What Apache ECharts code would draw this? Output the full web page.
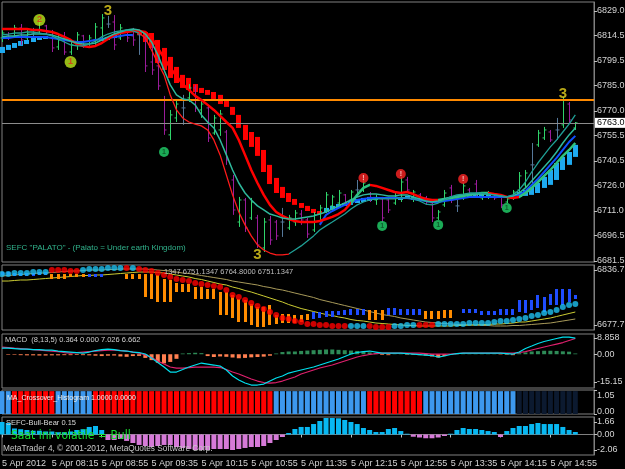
<!DOCTYPE html>
<html><head><meta charset="utf-8">
<script src="https://cdn.jsdelivr.net/npm/echarts@6/dist/echarts.min.js"></script>
<style>html,body{margin:0;padding:0;background:#000;}#c{width:625px;height:469px;}</style>
</head><body><div id="c"></div>
<script>
// ---------- categories (5-minute bars, 5 Apr 2012) ----------
const times = ['07:35','07:40','07:45','07:50','07:55','08:00','08:05','08:10',
'08:15','08:20','08:25','08:30','08:35','08:40','08:45','08:50',
'08:55','09:00','09:05','09:10','09:15','09:20','09:25','09:30',
'09:35','09:40','09:45','09:50','09:55','10:00','10:05','10:10',
'10:15','10:20','10:25','10:30','10:35','10:40','10:45','10:50',
'10:55','11:00','11:05','11:10','11:15','11:20','11:25','11:30',
'11:35','11:40','11:45','11:50','11:55','12:00','12:05','12:10',
'12:15','12:20','12:25','12:30','12:35','12:40','12:45','12:50',
'12:55','13:00','13:05','13:10','13:15','13:20','13:25','13:30',
'13:35','13:40','13:45','13:50','13:55','14:00','14:05','14:10',
'14:15','14:20','14:25','14:30','14:35','14:40','14:45','14:50',
'14:55','15:00','15:05','15:10','15:15','15:20','15:25','15:30'];
const dateLabel = '5 Apr 2012';
const dayPrefix = '5 Apr ';

// ---------- main window: price bars ----------
const barOpen = [6813.1,6814.9,6813.7,6819.0,6813.1,6816.0,6816.6,6820.2,6816.6,6807.8,
6811.9,6804.8,6809.0,6814.3,6809.5,6811.9,6819.0,6821.3,6822.5,6813.1,
6817.2,6814.3,6814.9,6813.1,6798.9,6796.6,6776.5,6755.9,6765.9,6771.8,
6777.7,6783.6,6770.6,6771.8,6757.0,6758.8,6757.6,6729.3,6704.5,6717.5,
6706.9,6706.9,6689.2,6705.7,6704.5,6704.5,6701.0,6704.5,6709.2,6705.7,
6699.8,6709.2,6711.6,6714.0,6715.7,6720.5,6717.5,6723.4,6723.4,6721.0,
6717.5,6718.1,6717.5,6715.7,6718.7,6729.3,6718.7,6720.5,6718.7,6715.1,
6706.9,6714.6,6724.6,6714.0,6718.7,6723.4,6726.9,6718.7,6720.5,6721.0,
6719.3,6716.3,6718.7,6723.4,6726.4,6738.2,6750.0,6754.1,6757.6,6758.8,
6761.8,6774.1,6760.0];
const barHigh = [6817.8,6816.6,6820.8,6821.3,6817.8,6819.0,6824.9,6820.8,6817.8,6814.9,
6816.6,6811.9,6816.6,6814.9,6814.9,6821.9,6827.2,6826.1,6826.6,6821.3,
6817.8,6819.0,6816.0,6814.3,6809.0,6803.1,6778.9,6770.6,6776.5,6779.5,
6785.9,6785.4,6776.5,6773.6,6767.7,6770.6,6758.8,6732.3,6719.3,6718.7,
6718.7,6708.7,6706.9,6708.1,6705.7,6712.8,6708.7,6711.6,6711.6,6706.9,
6710.4,6714.6,6722.2,6720.5,6723.4,6721.0,6723.4,6729.3,6729.3,6722.2,
6720.5,6719.3,6719.3,6721.6,6731.1,6731.1,6723.4,6721.6,6719.9,6716.3,
6711.6,6723.4,6726.4,6717.5,6727.5,6724.6,6729.3,6722.2,6722.8,6721.6,
6720.5,6719.3,6723.4,6734.0,6735.2,6751.1,6758.8,6760.6,6758.8,6765.9,
6778.3,6775.3,6763.5];
const barLow = [6810.7,6811.9,6813.1,6809.0,6811.9,6813.1,6815.4,6814.9,6804.8,6806.0,
6803.1,6803.1,6806.0,6807.2,6808.4,6809.0,6811.9,6819.0,6806.0,6811.9,
6810.7,6808.4,6803.1,6793.0,6791.3,6782.4,6755.9,6752.9,6763.5,6761.8,
6775.3,6769.4,6765.9,6751.7,6755.9,6755.3,6738.2,6708.7,6701.6,6698.6,
6705.7,6689.2,6686.8,6691.0,6693.9,6695.7,6699.8,6702.2,6702.8,6695.1,
6698.6,6705.7,6709.8,6712.8,6713.4,6714.0,6716.3,6719.3,6722.2,6716.3,
6714.6,6704.5,6709.8,6714.6,6716.3,6721.6,6716.3,6717.5,6714.6,6704.5,
6705.7,6713.4,6715.7,6710.4,6717.5,6719.3,6719.3,6717.5,6718.1,6717.5,
6712.8,6715.7,6717.5,6721.6,6724.6,6726.4,6748.8,6752.9,6751.7,6752.9,
6760.0,6762.9,6758.8];
const barClose = [6816.0,6813.7,6819.0,6811.9,6816.0,6816.0,6822.5,6816.6,6807.2,6811.9,
6804.8,6809.0,6814.9,6809.0,6813.1,6819.6,6824.9,6821.3,6809.0,6819.0,
6813.1,6811.9,6814.9,6796.6,6794.2,6784.8,6758.8,6767.7,6774.1,6771.8,
6783.6,6771.8,6774.1,6754.1,6765.9,6768.2,6741.1,6711.6,6717.5,6701.0,
6716.3,6691.0,6704.5,6693.9,6696.3,6704.5,6706.9,6709.8,6705.7,6697.4,
6708.7,6712.8,6720.5,6719.3,6721.6,6715.7,6722.2,6723.4,6727.5,6718.1,
6718.7,6706.9,6711.6,6719.9,6728.1,6723.4,6722.2,6718.7,6716.3,6706.9,
6710.4,6721.6,6717.5,6714.0,6725.8,6720.5,6721.0,6721.0,6721.6,6718.7,
6714.6,6718.1,6722.2,6731.7,6733.4,6738.2,6757.0,6758.8,6752.9,6758.8,
6776.5,6764.7,6763.0];

// ---------- main window: moving averages ----------
const maFast = [6814.9,6815.4,6816.0,6816.0,6816.6,6816.6,6816.0,6815.4,6814.3,6812.5,
6810.7,6809.0,6808.4,6808.4,6809.5,6811.3,6813.7,6815.4,6816.6,6817.2,
6817.8,6817.2,6816.0,6813.1,6806.0,6798.3,6791.3,6779.5,6770.6,6765.9,
6763.5,6762.3,6761.2,6758.8,6752.9,6744.1,6732.3,6720.5,6710.4,6702.8,
6696.3,6691.0,6688.0,6686.2,6685.1,6685.1,6685.6,6688.0,6690.4,6693.3,
6696.3,6699.8,6702.2,6704.5,6706.9,6709.2,6712.2,6714.6,6716.3,6717.5,
6718.1,6718.1,6718.1,6718.1,6718.7,6718.7,6718.1,6716.9,6715.1,6714.6,
6715.7,6717.5,6719.3,6720.5,6721.0,6721.6,6721.6,6721.6,6721.0,6720.5,
6719.9,6719.3,6720.5,6723.4,6728.1,6734.0,6739.3,6744.1,6748.8,6752.9,
6757.6,6762.3,6767.7];
const maMid = [6813.7,6814.3,6814.3,6814.9,6814.9,6815.4,6815.4,6815.4,6814.9,6813.7,
6812.5,6811.3,6810.1,6809.5,6809.5,6810.1,6811.9,6813.7,6815.4,6816.6,
6817.8,6818.4,6817.8,6815.4,6810.7,6803.1,6794.2,6785.4,6779.5,6777.1,
6776.5,6773.6,6767.7,6763.5,6760.0,6752.9,6744.1,6735.2,6727.5,6721.6,
6717.5,6714.0,6711.6,6709.2,6708.1,6706.9,6706.3,6706.3,6706.9,6707.5,
6708.1,6709.2,6710.4,6712.2,6714.0,6715.7,6717.5,6719.3,6720.5,6721.0,
6721.0,6720.5,6719.9,6719.9,6720.5,6720.5,6719.3,6718.1,6716.9,6716.3,
6716.9,6718.1,6719.3,6719.9,6720.5,6721.0,6721.0,6721.0,6721.0,6720.5,
6719.9,6719.3,6719.9,6721.6,6724.6,6728.7,6732.8,6737.0,6741.1,6745.8,
6751.1,6755.9,6760.0];
const maSlow = [6818.4,6818.4,6818.4,6818.4,6818.4,6817.8,6817.8,6817.2,6816.6,6815.4,
6813.7,6811.9,6809.5,6808.4,6807.8,6808.4,6810.1,6812.5,6814.9,6816.0,
6816.6,6817.2,6817.2,6816.6,6813.1,6807.2,6801.3,6795.4,6790.7,6785.9,
6782.4,6778.9,6776.5,6773.6,6770.6,6767.1,6763.5,6760.0,6752.9,6744.1,
6735.2,6727.5,6720.5,6714.6,6710.4,6708.1,6706.3,6705.1,6704.5,6704.5,
6704.5,6705.1,6706.3,6707.5,6709.2,6711.6,6715.7,6720.5,6724.6,6726.4,
6725.8,6724.6,6723.4,6722.2,6721.6,6722.2,6721.0,6719.3,6718.1,6717.5,
6717.5,6718.1,6718.7,6719.3,6719.9,6720.5,6721.0,6721.6,6721.6,6721.0,
6720.5,6719.3,6718.7,6719.3,6721.6,6724.6,6728.1,6731.7,6735.2,6739.3,
6743.5,6747.0,6751.1];
const maBlue = [6813.1,6813.1,6813.7,6813.7,6813.7,6813.7,6813.7,6813.7,6813.1,6812.5,
6811.9,6811.3,6810.7,6810.7,6811.3,6811.9,6812.5,6813.1,6813.7,6814.3,
6814.9,6814.9,
null,null,null,null,null,null,null,null,null,null,
null,null,null,null,null,null,null,null,null,null,
null,null,null,null,null,null,null,null,null,
6702.8,6708.7,6711.0,6712.8,6714.6,6715.7,6717.5,6718.1,6718.7,6718.7,
6718.7,6718.7,6718.7,6718.7,6718.7,6718.1,6717.5,6716.9,6716.3,6716.3,
6716.9,6717.5,6718.1,6718.7,6719.3,6719.3,6719.3,6719.3,6719.3,6719.3,
6719.3,6719.9,6720.5,6722.8,6726.4,6729.9,6734.0,6738.2,6742.3,6747.0,
6751.7,6755.3];

// ---------- main window: smoothed blocks (open / close) ----------
const haOpen = [6804.2,6806.0,6807.2,6808.4,6809.5,6810.7,6811.9,6812.5,
null,null,null,null,null,null,null,null,
6811.3,6811.9,6813.1,null,null,null,
6817.2,6816.6,6816.0,6811.9,6807.2,6801.9,6796.0,6791.3,6789.5,6785.9,
6783.6,6782.4,6781.2,6779.5,6776.5,6772.4,6767.7,6761.8,6757.6,6754.7,
6747.0,6738.2,6730.5,6725.2,6721.6,6718.1,6715.7,6714.0,6712.2,6711.0,
6710.4,6711.6,6712.8,6714.0,6714.6,6715.7,6716.3,6716.9,6717.5,
null,null,null,6717.5,6718.1,6717.5,6716.9,
null,null,null,null,null,null,null,
6718.7,6718.7,6719.3,6719.3,null,null,null,null,
6719.3,6719.9,6720.5,6721.6,6724.6,6726.4,6729.3,6735.2,6738.2,6742.9];
const haClose = [6807.8,6809.0,6810.1,6811.3,6811.9,6813.1,6813.7,6814.3,
null,null,null,null,null,null,null,null,
6812.5,6813.7,6814.9,null,null,null,
6814.9,6810.7,6807.2,6798.3,6794.2,6789.5,6786.5,6783.6,6782.4,6781.2,
6780.6,6779.5,6777.1,6774.1,6772.4,6767.7,6760.0,6752.9,6748.8,6743.5,
6734.0,6726.9,6721.6,6718.7,6716.3,6714.6,6712.8,6711.0,6709.8,6709.2,
6712.8,6714.0,6715.1,6715.7,6716.9,6718.1,6718.7,6719.3,6719.3,
null,null,null,6719.3,6719.9,6719.3,6718.7,
null,null,null,null,null,null,null,
6720.5,6720.5,6721.0,6721.0,null,null,null,null,
6722.2,6723.4,6725.2,6727.5,6731.1,6735.2,6739.3,6742.9,6745.8,6750.0];

// ---------- main window: signals and levels ----------
const sigIdx   = [6, 11, 26, 58, 64, 74, 61, 70, 81, 17, 41, 90];
const sigPrice = [6823.7, 6798.9, 6745.8, 6730.5, 6732.8, 6729.9, 6702.2, 6702.8, 6712.8, 6829.0, 6685.1, 6780.0];
const sigText  = ['2','1','1','!','!','!','1','1','1','3','3','3'];
const sigKind  = ['lime','lime','green','red','red','red','green','green','green','wave','wave','wave'];
const levelPrice = 6776.5;
const mainTicks = [6829.0,6814.5,6799.5,6785.0,6770.0,6755.5,6740.5,6726.0,6711.0,6696.5,6681.5];

// ---------- window 2 ----------
const p2Dots = [6825.1,6825.1,6828.0,6828.0,6828.0,6830.9,6830.9,6830.9,6836.7,6836.7,
6836.7,6833.8,6833.8,6836.7,6839.6,6839.6,6839.6,6842.5,6842.5,6842.5,
6842.5,6842.5,6839.6,6836.7,6833.8,6828.0,6822.3,6816.5,6810.7,6807.8,
6804.9,6799.1,6796.2,6793.4,6790.5,6787.6,6778.9,6764.5,6758.7,6750.0,
6741.3,6732.7,6724.0,6715.3,6706.7,6698.0,6695.1,6689.3,6686.4,6680.6,
6680.6,6677.8,6677.8,6674.9,6674.9,6674.9,6674.9,6674.9,6674.9,6674.9,
6672.0,6672.0,6672.0,6674.9,6674.9,6677.8,6677.8,6677.8,6677.8,6677.8,
6680.6,6680.6,6680.6,6680.6,6680.6,6683.5,6683.5,6683.5,6683.5,6686.4,
6689.3,6689.3,6692.2,6695.1,6698.0,6703.8,6706.7,6712.4,6715.3,6721.1,
6729.8,6735.5,6738.4];
const p2Side = [1,1,1,1,1,1,1,1,0,0,0,0,0,1,1,1,1,1,1,1,0,1,
0,0,0,0,0,0,0,0,0,0,0,0,0,0,0,0,0,0,0,0,0,0,0,0,0,0,0,0,0,0,0,0,0,0,
1,1,1,0,0,0,0,1,1,1,1,0,0,0,
1,1,1,1,1,1,1,1,1,1,1,1,1,1,1,1,1,1,1,1,1,1,1];
const p2Open = [6822.3,6822.3,6819.4,6819.4,6819.4,6819.4,6822.3,6822.3,6825.1,6825.1,
6825.1,6825.1,6825.1,6825.1,6816.5,6816.5,6816.5,null,null,null,
6825.1,6825.1,6825.1,6825.1,6825.1,6822.3,6810.7,6807.8,6799.1,6796.2,
6796.2,6787.6,6787.6,6781.8,6781.8,6773.1,6773.1,6764.5,6752.9,6750.0,
6738.4,6729.8,6729.8,6735.5,6706.7,6709.5,6709.5,6706.7,6706.7,6709.5,
6695.1,6698.0,6700.9,6700.9,6706.7,6706.7,6706.7,6706.7,6706.7,6721.1,
6721.1,6721.1,6706.7,6706.7,6706.7,6706.7,6706.7,6706.7,6718.2,6718.2,
6718.2,6721.1,6721.1,null,6712.4,6712.4,6712.4,6706.7,6706.7,6706.7,
6706.7,6706.7,6706.7,6715.3,6712.4,6721.1,6726.9,6715.3,6735.5,6735.5,
6735.5,6744.2,6752.9];
const p2Close = [6830.9,6830.9,6828.0,6828.0,6828.0,6828.0,6830.9,6830.9,6810.7,6810.7,
6810.7,6816.5,6816.5,6816.5,6825.1,6825.1,6825.1,null,null,null,
6810.7,6810.7,6810.7,6758.7,6752.9,6744.2,6744.2,6744.2,6773.1,6773.1,
6773.1,6752.9,6752.9,6752.9,6752.9,6706.7,6706.7,6698.0,6686.4,6686.4,
6677.8,6672.0,6672.0,6677.8,6680.6,6683.5,6683.5,6683.5,6686.4,6692.2,
6715.3,6715.3,6718.2,6718.2,6718.2,6721.1,6724.0,6724.0,6724.0,6692.2,
6692.2,6692.2,6726.9,6726.9,6724.0,6724.0,6724.0,6724.0,6695.1,6695.1,
6695.1,6698.0,6698.0,null,6724.0,6724.0,6724.0,6718.2,6718.2,6718.2,
6724.0,6724.0,6724.0,6750.0,6750.0,6750.0,6764.5,6758.7,6767.3,6781.8,
6781.8,6781.8,6764.5];
const p2LineA = [6819.4,6820.8,6822.3,6823.7,6825.1,6826.6,6828.0,6828.0,6829.5,6830.9,
6832.4,6833.8,6833.8,6835.3,6836.7,6836.7,6836.7,6838.2,6838.2,6839.6,
6839.6,6839.6,6839.6,6839.6,6838.2,6836.7,6835.3,6833.8,6830.9,6828.0,
6826.6,6823.7,6820.8,6817.9,6815.0,6812.1,6809.2,6804.9,6802.0,6799.1,
6796.2,6793.4,6789.0,6786.1,6781.8,6778.9,6774.6,6770.2,6765.9,6761.6,
6757.3,6751.4,6747.1,6742.8,6738.4,6734.1,6729.8,6725.4,6721.1,6716.7,
6712.4,6708.1,6705.2,6702.3,6698.0,6695.1,6692.2,6689.3,6686.4,6685.0,
6683.5,6682.1,6680.6,6679.2,6679.2,6677.8,6677.8,6676.3,6676.3,6674.9,
6674.9,6674.9,6676.3,6676.3,6677.8,6679.2,6680.6,6682.1,6683.5,6686.4,
6689.3,6692.2,6695.1];
const p2LineB = [6804.9,6804.9,6806.4,6807.8,6807.8,6809.2,6810.7,6812.1,6813.6,6815.0,
6816.5,6817.9,6819.4,6820.8,6820.8,6822.3,6822.3,6823.7,6825.1,6826.6,
6828.0,6829.5,6830.9,6830.9,6830.9,6829.5,6828.0,6825.1,6822.3,6819.4,
6816.5,6812.1,6809.2,6804.9,6800.6,6796.2,6793.4,6787.6,6783.2,6777.5,
6773.1,6767.3,6761.6,6755.8,6750.0,6744.2,6737.0,6731.2,6725.4,6721.1,
6716.7,6712.4,6708.1,6705.2,6700.9,6698.0,6693.6,6690.8,6689.3,6686.4,
6683.5,6682.1,6680.6,6679.2,6677.8,6676.3,6676.3,6674.9,6674.9,6674.9,
6674.9,6674.9,6674.9,6676.3,6676.3,6677.8,6677.8,6679.2,6679.2,6680.6,
6680.6,6682.1,6683.5,6686.4,6686.4,6689.3,6692.2,6695.1,6698.0,6702.3,
6706.7,6711.0,6715.3];
const p2Ticks = [6836.725, 6677.775];

// ---------- MACD (8,13,5) ----------
const macdMain = [3.38,3.38,3.11,2.84,2.84,2.56,2.56,2.29,2.29,1.75,
1.47,1.20,0.93,0.65,1.20,2.02,2.56,2.84,2.56,2.02,
1.75,1.20,0.93,0.11,-2.07,-4.53,-6.98,-9.71,-9.71,-8.35,
-6.98,-5.89,-4.80,-5.35,-5.89,-6.44,-8.62,-11.89,-14.08,-15.71,
-16.80,-16.80,-16.26,-14.63,-12.98,-11.89,-10.26,-9.44,-8.62,-7.80,
-6.98,-5.89,-4.80,-3.71,-2.62,-1.25,0.11,0.93,1.47,1.75,
1.20,0.65,0.65,0.65,0.65,0.38,0.11,-0.16,-0.44,-0.71,
-1.53,-0.98,-0.16,0.38,0.65,0.65,0.65,0.65,0.65,0.65,
0.65,0.38,0.11,1.20,3.11,4.47,5.84,6.93,7.75,8.57,
9.38,9.38,8.84];
const macdSignal = [3.93,3.66,3.38,3.11,2.84,2.56,2.29,2.02,1.75,1.47,
0.93,0.65,0.93,1.20,1.47,1.75,2.02,2.29,2.29,2.02,
1.75,1.20,0.65,-0.44,-1.80,-3.71,-5.35,-6.98,-7.53,-7.53,
-7.26,-6.98,-6.98,-6.98,-6.98,-7.26,-8.35,-9.71,-10.80,-12.17,
-13.53,-14.63,-15.44,-15.71,-15.44,-14.63,-13.53,-12.44,-10.80,-9.71,
-8.62,-7.53,-6.71,-5.89,-4.80,-3.71,-2.62,-1.53,-0.71,-0.16,
0.38,0.65,0.65,0.65,0.65,0.65,0.65,0.65,0.38,0.11,
0.11,0.11,0.11,0.38,0.65,0.65,0.65,0.65,0.65,0.65,
0.65,0.65,0.65,0.93,1.47,2.29,3.11,3.93,4.75,5.56,
6.38,7.47,8.57];
const macdHist = [0,-0.3,-0.3,-0.5,-0.6,-0.6,-0.7,-0.7,-0.6,-0.6,
-0.5,-0.5,-0.4,-0.5,-0.6,-0.8,-1.0,-0.8,-0.7,-1.2,
-1.4,-1.0,-0.9,-2.0,-3.2,-4.6,-5.0,-4.2,-2.5,0.4,
0.6,0.8,0.6,-1.0,-1.5,-1.2,-1.4,-1.8,-2.2,-2.0,
-1.7,-1.5,-1.3,-0.8,0.4,1.2,1.5,1.5,1.8,2.0,
2.2,2.4,2.6,2.6,2.4,2.2,2.0,1.8,1.5,1.0,
0.6,-0.4,-0.5,0.3,0.3,-0.3,-0.4,-0.5,-0.7,-1.2,
-1.8,-1.0,-0.4,0.3,0.3,0.2,0.3,0.2,0.2,0.2,
-0.2,-0.3,-0.5,0.6,1.0,1.5,1.7,1.9,1.9,1.8,
1.6,1.4,0.4];
const macdTickVals = [8.858, 0, -15.15];
const macdTickText = ['8.858', '0.00', '-15.15'];

// ---------- MA_Crossover_Histogram (B = bull, R = bear, N = none) ----------
const crossState = ['B','B','R','R','R','R','R','R','R','B','B','B','B','B','B',
'R','R','R','R','R','R','R','R','R','R','R','R','R','R','R','R','R','R','R','R','R','R','R','R','R','R','R','R','R',
'B','B','B','B','B','B','B','B','B','B','B','B','B','B','B',
'R','R','R','R','R','R','R','R','R',
'B','B','B','B','B','B','B','B','B','B','B','B','B','B','B',
'N','N','N','N','N','N','N','N','N','N'];
const crossLevel = 1.0;
const crossTickVals = [1.05, 0.05, 0];
const crossTickText = ['1.05', '0.05', '0.00'];

// ---------- SEFC-Bull-Bear ----------
const bullBear = [1.66,1.53,0.8,0.7,0.6,0.5,0.5,0.4,0.4,0.3,
0.3,0.4,0.6,0.7,1.0,1.13,0.6,-0.73,-0.73,-0.6,
-0.85,-1.13,-1.39,-1.53,-1.66,-1.53,-1.39,-1.39,-1.66,-1.79,
-1.93,-2.06,-2.06,-2.06,-1.93,-1.93,-1.93,-2.06,-1.93,-1.79,
-1.66,-1.66,-1.53,-1.13,-0.73,-0.33,0.2,0.73,1.0,1.0,
1.39,1.79,2.19,2.19,2.15,1.93,1.66,1.39,0.86,0.6,
0.33,0.33,0.73,0.86,0.46,0.1,-0.3,-0.4,-0.5,-0.5,
-0.4,-0.2,0.1,0.6,0.86,0.73,0.73,0.6,0.46,0.33,
-0.33,0.46,0.86,1.13,1.13,1.39,1.53,1.39,1.39,1.39,
1.0,0.6,0.33];
const bbTickVals = [1.66, 0, -2.06];
const bbTickText = ['1.66', '0.00', '-2.06'];

// ---------- build chart ----------
const FONT = '"Liberation Sans", Arial, sans-serif';
const GRAY = '#808080';
const LBL = '#d4d4d4';
function nearestText(vals, texts) {
  return function (v) {
    let k = 0, best = Infinity;
    vals.forEach((x, j) => { const d = Math.abs(x - v); if (d < best) { best = d; k = j; } });
    return texts[k];
  };
}
const gridBase = { left: 2, right: 31, show: true, borderColor: GRAY, borderWidth: 1, containLabel: false, outerBoundsMode: 'none' };
const grids = [
  Object.assign({ top: 2, height: 260 }, gridBase),
  Object.assign({ top: 265, height: 65 }, gridBase),
  Object.assign({ top: 334, height: 54 }, gridBase),
  Object.assign({ top: 390, height: 24 }, gridBase),
  Object.assign({ top: 417, height: 38 }, gridBase)
];
const xAxes = grids.map((g, k) => ({
  type: 'category', gridIndex: k, data: times, boundaryGap: false,
  show: k === 4,
  axisLine: { show: true, lineStyle: { color: GRAY } },
  axisTick: { show: true, interval: 7, length: 3, lineStyle: { color: '#c0c0c0' } },
  axisLabel: {
    show: true, interval: 7, align: 'left', margin: 4, color: LBL, fontSize: 9, fontFamily: FONT,
    formatter: (v, i) => i === 0 ? dateLabel : dayPrefix + v
  },
  splitLine: { show: false }
}));
function yAx(k, min, max, vals, fmt, extra) {
  const ax = {
    type: 'value', gridIndex: k, position: 'right', min: min, max: max, scale: true,
    splitLine: { show: false },
    axisLine: { show: true, lineStyle: { color: GRAY } },
    axisTick: { show: true, length: 3, customValues: vals, lineStyle: { color: '#c0c0c0' } },
    axisLabel: { show: true, customValues: vals, formatter: fmt, color: LBL, fontSize: 9, fontFamily: FONT,
      margin: 3, align: 'left', hideOverlap: false, showMinLabel: true, showMaxLabel: true }
  };
  if (extra) Object.assign(ax.axisLabel, extra);
  return ax;
}
const yAxes = [
  yAx(0, 6680.9, 6834.3, mainTicks, v => v.toFixed(1)),
  yAx(1, 6663.3, 6851.2, p2Ticks, v => v.toFixed(3)),
  yAx(2, -18.42, 11.04, macdTickVals, nearestText(macdTickVals, macdTickText)),
  yAx(3, 0, 1.05, crossTickVals, v => {
    const t = nearestText(crossTickVals, crossTickText)(v);
    const s = t === '1.05' ? 't' : (t === '0.05' ? 'b' : 'c');
    return '{' + s + '|' + t + '}';
  }, { rich: { t: { padding: [11, 0, 0, 0], fontSize: 9, color: LBL }, b: { padding: [0, 0, 9, 0], fontSize: 9, color: LBL }, c: { padding: [0, 0, 5, 0], fontSize: 9, color: LBL } } }),
  yAx(4, -2.724, 2.324, bbTickVals, nearestText(bbTickVals, bbTickText))
];

const ohlcData = barOpen.map((o, i) => [i, o, barHigh[i], barLow[i], barClose[i]]);
const haData = [];
haOpen.forEach((o, i) => { if (o !== null && haClose[i] !== null) haData.push([i, o, haClose[i]]); });
const p2BarData = [];
p2Open.forEach((o, i) => { if (o !== null && p2Close[i] !== null) p2BarData.push([i, o, p2Close[i]]); });

const kindStyle = {
  lime:  { size: 12, fill: '#bde81c', text: '#e0301a', fs: 9 },
  green: { size: 10, fill: '#22d46c', text: '#0b4a22', fs: 7 },
  red:   { size: 10, fill: '#ff2424', text: '#ffe0e0', fs: 7 },
  wave:  { size: 1, fill: 'rgba(0,0,0,0)', text: '#e6d21e', fs: 15 }
};
const markerData = sigIdx.map((x, k) => {
  const s = kindStyle[sigKind[k]];
  return {
    value: [x, sigPrice[k]], symbolSize: s.size,
    itemStyle: { color: s.fill },
    label: { show: true, position: 'inside', formatter: sigText[k], color: s.text, fontSize: s.fs, fontWeight: 'bold', fontFamily: FONT }
  };
});

function renderOHLC(params, api) {
  const i = api.value(0), o = api.value(1), c = api.value(4);
  const po = api.coord([i, o]), ph = api.coord([i, api.value(2)]), pl = api.coord([i, api.value(3)]), pc = api.coord([i, c]);
  const x = Math.round(po[0]) + 0.5;
  const col = c > o ? '#2fd46a' : (c < o ? '#9a1c9a' : '#56789a');
  const st = { stroke: col, lineWidth: 1 };
  return { type: 'group', children: [
    { type: 'line', shape: { x1: x, y1: ph[1], x2: x, y2: pl[1] }, style: st },
    { type: 'line', shape: { x1: x - 2, y1: po[1], x2: x, y2: po[1] }, style: st },
    { type: 'line', shape: { x1: x, y1: pc[1], x2: x + 2, y2: pc[1] }, style: st }
  ] };
}
function makeBlockRenderer(w, downCol, upCol) {
  return function (params, api) {
    const i = api.value(0), o = api.value(1), c = api.value(2);
    const a = api.coord([i, Math.max(o, c)]), b = api.coord([i, Math.min(o, c)]);
    const h = Math.max(b[1] - a[1], 2);
    return { type: 'rect', shape: { x: Math.round(a[0] - w / 2), y: a[1], width: w, height: h },
      style: { fill: c < o ? downCol : upCol } };
  };
}

const series = [
  { type: 'custom', name: 'blocks', xAxisIndex: 0, yAxisIndex: 0, data: haData, renderItem: makeBlockRenderer(5, '#ff0000', '#1eaaf0'), z: 2 },
  { type: 'custom', name: 'bars', xAxisIndex: 0, yAxisIndex: 0, data: ohlcData, renderItem: renderOHLC, z: 3 },
  { type: 'line', name: 'maBlue', xAxisIndex: 0, yAxisIndex: 0, data: maBlue, symbol: 'none', connectNulls: false, lineStyle: { color: '#1050ff', width: 2 }, z: 4 },
  { type: 'line', name: 'maSlow', xAxisIndex: 0, yAxisIndex: 0, data: maSlow, symbol: 'none', lineStyle: { width: 2.5 }, z: 5 },
  { type: 'line', name: 'maMid', xAxisIndex: 0, yAxisIndex: 0, data: maMid, symbol: 'none', lineStyle: { color: '#2fb89c', width: 1.5 }, z: 6,
    markLine: { silent: true, symbol: ['none', 'none'], animation: false, data: [
      { yAxis: levelPrice, lineStyle: { color: '#ff8a00', width: 2, type: 'solid' }, label: { show: false } },
      { yAxis: barClose[barClose.length - 1], lineStyle: { color: '#8c8c8c', width: 1, type: 'solid' },
        label: { show: true, position: 'end', formatter: barClose[barClose.length - 1].toFixed(1), color: '#000', backgroundColor: '#ffffff',
          padding: [1, 2, 0, 2], fontSize: 9, fontFamily: FONT, distance: 1 } }
    ] } },
  { type: 'line', name: 'maFast', xAxisIndex: 0, yAxisIndex: 0, data: maFast, symbol: 'none', lineStyle: { width: 1.3 }, z: 7 },
  { type: 'scatter', name: 'signals', xAxisIndex: 0, yAxisIndex: 0, data: markerData, symbol: 'circle', z: 10 },

  { type: 'line', name: 'p2A', xAxisIndex: 1, yAxisIndex: 1, data: p2LineA, symbol: 'none', lineStyle: { color: '#a89a5a', width: 1 }, z: 2 },
  { type: 'line', name: 'p2B', xAxisIndex: 1, yAxisIndex: 1, data: p2LineB, symbol: 'none', lineStyle: { color: '#cccc33', width: 1 }, z: 2 },
  { type: 'custom', name: 'p2bars', xAxisIndex: 1, yAxisIndex: 1, data: p2BarData, renderItem: makeBlockRenderer(3, '#ff8c00', '#1f4dff'), z: 3 },
  { type: 'scatter', name: 'p2dots', xAxisIndex: 1, yAxisIndex: 1, data: p2Dots, symbolSize: 6, z: 4,
    itemStyle: { color: p => p2Side[p.dataIndex] ? '#1ec0f0' : '#ff0000' } },

  { type: 'bar', name: 'macdHist', xAxisIndex: 2, yAxisIndex: 2, data: macdHist, barWidth: 4,
    itemStyle: { color: p => p.value < 0 ? '#ff7f50' : '#2e8b57' }, z: 2 },
  { type: 'line', name: 'macdMain', xAxisIndex: 2, yAxisIndex: 2, data: macdMain, symbol: 'none', lineStyle: { color: '#00e0ee', width: 1.2 }, z: 4 },
  { type: 'line', name: 'macdSignal', xAxisIndex: 2, yAxisIndex: 2, data: macdSignal, symbol: 'none', lineStyle: { color: '#e0206e', width: 1.2 }, z: 3 },

  { type: 'bar', name: 'cross', xAxisIndex: 3, yAxisIndex: 3, barWidth: 5,
    data: crossState.map(s => ({ value: crossLevel, itemStyle: { color: s === 'B' ? '#3d98ee' : (s === 'R' ? '#ff0000' : '#0c1a30') } })) },

  { type: 'bar', name: 'bullBear', xAxisIndex: 4, yAxisIndex: 4, data: bullBear, barWidth: 5,
    itemStyle: { color: p => p.value < 0 ? '#d67ad8' : '#08b8f2' } }
];

const txt = (x, y, text, fill, size, family) => ({
  type: 'text', x: x, y: y, z: 100, silent: true,
  style: { text: text, fill: fill, font: size + 'px ' + (family || FONT), verticalAlign: 'middle', align: 'left' }
});

const option = {
  backgroundColor: '#000000',
  animation: false,
  grid: grids,
  xAxis: xAxes,
  yAxis: yAxes,
  visualMap: [
    { type: 'piecewise', show: false, seriesIndex: 3, dimension: 0,
      pieces: [{ lt: 56, color: '#ff0000' }, { gte: 56, lt: 59, color: '#2ec27e' }, { gte: 59, lt: 70, color: '#ff0000' },
               { gte: 70, lt: 78, color: '#2ec27e' }, { gte: 78, lt: 83, color: '#ff0000' }, { gte: 83, color: '#2ec27e' }] },
    { type: 'piecewise', show: false, seriesIndex: 5, dimension: 0,
      pieces: [{ lt: 22, color: '#1f9f95' }, { gte: 22, lt: 46, color: '#ff1a1a' }, { gte: 46, color: '#1f9f95' }] }
  ],
  series: series,
  graphic: [
    txt(6, 248, 'SEFC "PALATO" - (Palato = Under earth Kingdom)', '#31b38c', 8),
    txt(164, 272, '1347 6751.1347 6764.8000 6751.1347', '#bdbdbd', 7.5),
    txt(5, 340, 'MACD  (8,13,5) 0.364 0.000 7.026 6.662', '#d0d0d0', 7.5),
    txt(7, 398, 'MA_Crossover_Histogram 1.0000 0.0000', '#eeeeee', 7),
    txt(6, 423, 'SEFC-Bull-Bear 0.15', '#d8d8d8', 7.5),
    txt(11, 436, 'Saat ini volatile = Bull', '#18e030', 12, '"Liberation Sans Narrow", "Arial Narrow", "DejaVu Sans Condensed", sans-serif'),
    txt(3, 449, 'MetaTrader 4, \u00a9 2001-2012, MetaQuotes Software Corp.', '#c8c8c8', 8.3)
  ]
};
const chart = echarts.init(document.getElementById('c'), null, { renderer: 'canvas' });
chart.setOption(option);
</script>
</body></html>
